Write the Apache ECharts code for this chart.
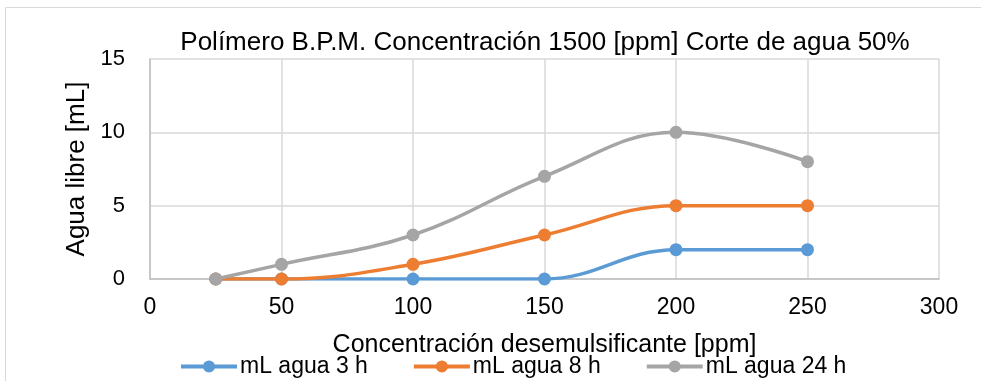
<!DOCTYPE html>
<html><head><meta charset="utf-8">
<script src="https://cdn.jsdelivr.net/npm/echarts@6/dist/echarts.min.js"></script>
<style>html,body{margin:0;padding:0;background:#fff}#c{width:981px;height:381px}</style>
</head><body><div id="c"></div>
<script>
const xValues = [25, 50, 100, 150, 200, 250];
const agua3h = [0, 0, 0, 0, 2, 2];
const agua8h = [0, 0, 1, 3, 5, 5];
const agua24h = [0, 1, 3, 7, 10, 8];
const seriesNames = ['mL agua 3 h', 'mL agua 8 h', 'mL agua 24 h'];
const colors = ['#5B9BD5', '#ED7D31', '#A5A5A5'];
const FONT = '"Liberation Sans", Arial, sans-serif';

const chart = echarts.init(document.getElementById('c'));
const mk = (name, vals, color) => ({
  name, type: 'line', smooth: 0.4,
  data: xValues.map((x, i) => [x, vals[i]]),
  symbol: 'circle', symbolSize: 13,
  lineStyle: { color, width: 3.5 }, itemStyle: { color },
  z: 3
});
chart.setOption({
  animation: false,
  textStyle: { fontFamily: FONT },
  graphic: [{ type: 'rect', shape: { x: 5.5, y: 7.5, width: 1000, height: 400 },
    style: { fill: 'none', stroke: '#d9d9d9', lineWidth: 1 }, z: -1 }],
  title: { text: 'Polímero B.P.M. Concentración 1500 [ppm] Corte de agua 50%', left: 540, textAlign: 'center', top: 25,
    textStyle: { fontFamily: FONT, fontSize: 26, fontWeight: 'normal', color: '#000' } },
  grid: { left: 150, right: 42, top: 59, bottom: 102 },
  legend: { top: 350, left: 174, itemWidth: 56, itemHeight: 15, itemGap: 44,
    lineStyle: { width: 4 },
    textStyle: { fontFamily: FONT, fontSize: 23, color: '#000', padding: [0, 0, 0, -2] },
    data: seriesNames },
  xAxis: { type: 'value', min: 0, max: 300, interval: 50,
    name: 'Concentración desemulsificante [ppm]', nameLocation: 'middle', nameGap: 54,
    nameTextStyle: { fontFamily: FONT, fontSize: 25, color: '#000' },
    axisLine: { show: true, onZero: false, lineStyle: { color: '#bfbfbf', width: 1.5 } },
    axisTick: { show: false },
    axisLabel: { fontFamily: FONT, fontSize: 23, color: '#000', margin: 17 },
    splitLine: { show: true, lineStyle: { color: '#d9d9d9', width: 1.5 } } },
  yAxis: { type: 'value', min: 0, max: 15, interval: 5,
    name: 'Agua libre [mL]', nameLocation: 'middle', nameGap: 52, nameRotate: 90,
    nameTextStyle: { fontFamily: FONT, fontSize: 26, color: '#000' },
    axisLine: { show: true, lineStyle: { color: '#bfbfbf', width: 1.5 } },
    axisTick: { show: false },
    axisLabel: { fontFamily: FONT, fontSize: 22, color: '#000', margin: 25 },
    splitLine: { show: true, lineStyle: { color: '#d9d9d9', width: 1.5 } } },
  series: [mk(seriesNames[0], agua3h, colors[0]), mk(seriesNames[1], agua8h, colors[1]), mk(seriesNames[2], agua24h, colors[2])]
});
</script></body></html>
